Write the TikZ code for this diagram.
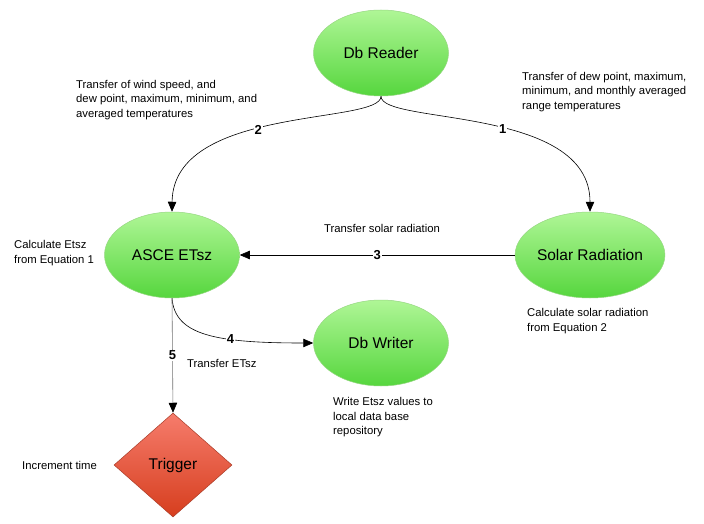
\documentclass[tikz,border=0pt]{standalone}
\usepackage{fontspec}
\setmainfont{Liberation Sans}
\usetikzlibrary{shapes.geometric,arrows.meta}
\definecolor{gtop}{RGB}{175,246,150}
\definecolor{gbot}{RGB}{86,214,62}
\definecolor{gedge}{RGB}{150,215,130}
\definecolor{rtop}{RGB}{246,124,108}
\definecolor{rbot}{RGB}{214,62,30}
\definecolor{redge}{RGB}{170,60,40}
\tikzset{
  proc/.style={ellipse, minimum width=135pt, minimum height=86pt, inner sep=0pt,
    top color=gtop, bottom color=gbot, draw=gedge, line width=0.5pt,
    font=\fontsize{15.5}{18}\selectfont},
  trig/.style={diamond, minimum width=118pt, minimum height=104pt, inner sep=0pt, aspect=1.13,
    top color=rtop, bottom color=rbot, draw=redge, line width=0.5pt,
    font=\fontsize{15.5}{18}\selectfont},
  note/.style={inner sep=0pt, align=left, font=\fontsize{11.3}{14.5}\selectfont},
  num/.style={fill=white, inner sep=1pt, font=\fontsize{13}{15}\selectfont\bfseries},
  flow/.style={draw=black, line width=0.6pt, -{Triangle[length=10pt,width=8.5pt,color=black]}},
}
\begin{document}
\begin{tikzpicture}[x=1pt,y=-1pt]
\useasboundingbox[fill=white] (0,0) rectangle (704,524);
\node[proc] (reader) at (381,53) {Db Reader};
\node[proc] (asce) at (172,255) {ASCE ETsz};
\node[proc] (solar) at (590,255) {Solar Radiation};
\node[proc] (writer) at (381,343) {Db Writer};
\node[trig] (trigger) at (173,465) {Trigger};

\draw[flow] (reader.south) .. controls (381,125) and (173,105) .. (asce.north)
  node[num, pos=0.56] (n2) {2};
\draw[flow] (reader.south) .. controls (381,125) and (590,105) .. (solar.north)
  node[num, pos=0.555] (n1) {1};
\draw[flow] (solar.west) -- (asce.east) node[num, midway] (n3) {3};
\draw[flow] (asce.south) .. controls (175,335) and (215,343) .. (writer.west)
  node[num, pos=0.65] (n4) {4};
\draw[flow, draw=black!55] (asce.south) -- (trigger.north) node[num, pos=0.5] (n5) {5};

\node[note, anchor=west] (t1) at (76,100) {Transfer of wind speed, and\\dew point, maximum, minimum, and\\averaged temperatures};
\node[note, anchor=west] (t2) at (522,92) {Transfer of dew point, maximum,\\minimum, and monthly averaged\\range temperatures};
\node[note] (t3) at (382,228) {Transfer solar radiation};
\node[note, anchor=west] (t4) at (14,253) {Calculate Etsz\\from Equation 1};
\node[note, anchor=west] (t5) at (527,321) {Calculate solar radiation\\from Equation 2};
\node[note, anchor=west] (t6) at (187,363) {Transfer ETsz};
\node[note, anchor=west] (t7) at (333,417.5) {Write Etsz values to\\local data base\\repository};
\node[note, anchor=west] (t8) at (22,465) {Increment time};
\end{tikzpicture}
\end{document}
